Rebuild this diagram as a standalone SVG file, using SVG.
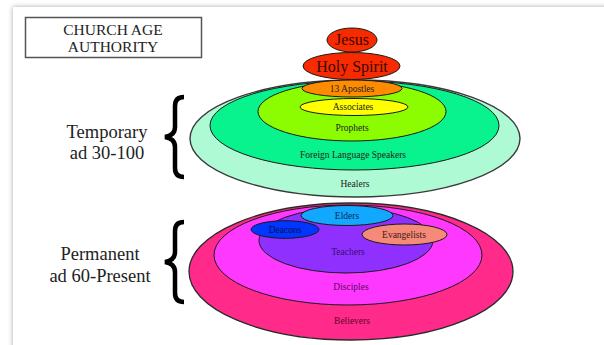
<svg xmlns="http://www.w3.org/2000/svg" width="604" height="345" viewBox="0 0 604 345">
<defs>
<filter id="sh" x="-5%" y="-5%" width="110%" height="110%">
<feDropShadow dx="0" dy="0" stdDeviation="2.5" flood-color="#000" flood-opacity="0.35"/>
</filter>
<path id="brace" d="M 184 97 C 178 97, 175 100, 175 106 L 175 127 C 175 133, 171 136, 165 137 C 171 138, 175 141, 175 147 L 175 168 C 175 174, 178 177, 184 177"/>
</defs>
<style>
.sh{stroke:#1a1a1a;stroke-width:1}
.t{font-family:"Liberation Serif","Times New Roman",serif;text-anchor:middle}
.s{font-size:9.5px}
.big{font-size:18.5px;fill:#222}
.br{fill:none;stroke:#000;stroke-width:4.5}
</style>
<rect x="0" y="0" width="604" height="345" fill="#fff"/>
<rect x="13" y="7" width="600" height="350" fill="#fff" filter="url(#sh)"/>

<g id="title">
<rect x="25.5" y="17.5" width="176" height="40" fill="#fff" stroke="#555" stroke-width="1.5"/>
<text class="t" x="113" y="35" font-size="15.5" fill="#222">CHURCH AGE</text>
<text class="t" x="113" y="52" font-size="15.5" fill="#222">AUTHORITY</text>
</g>

<g id="temporary-label">
<text class="t big" x="107" y="138">Temporary</text>
<text class="t big" x="107" y="159">ad 30-100</text>
</g>
<g id="permanent-label">
<text class="t big" x="100" y="260">Permanent</text>
<text class="t big" x="100" y="282">ad 60-Present</text>
</g>

<g id="braces">
<use href="#brace" class="br"/>
<use href="#brace" class="br" transform="translate(0,125)"/>
</g>

<g id="healers">
<ellipse cx="355" cy="138.5" rx="165" ry="58.5" fill="#aefad4" stroke="#3a3a3a" stroke-width="1.4"/>
<text class="t s" x="355" y="187" fill="#222">Healers</text>
</g>
<g id="foreign-language-speakers">
<ellipse cx="354.5" cy="125.5" rx="144.5" ry="44.5" fill="#08f28e" class="sh"/>
<text class="t s" x="353" y="158" fill="#222">Foreign Language Speakers</text>
</g>
<g id="prophets">
<ellipse cx="352" cy="111.5" rx="94" ry="29.5" fill="#8cfc00" class="sh"/>
<text class="t s" x="352" y="131" fill="#222">Prophets</text>
</g>
<g id="associates">
<ellipse cx="354" cy="107" rx="54" ry="8.5" fill="#ffff00" class="sh"/>
<text class="t s" x="353" y="110" fill="#222">Associates</text>
</g>
<g id="apostles">
<ellipse cx="352" cy="88.5" rx="50" ry="8.5" fill="#ff8c00" class="sh"/>
<text class="t s" x="352" y="91.5" fill="#222">13 Apostles</text>
</g>
<g id="holy-spirit">
<ellipse cx="351.5" cy="66" rx="48.5" ry="13.5" fill="#f82a00" class="sh"/>
<text class="t" x="352" y="71.5" font-size="16" fill="#3a0800">Holy Spirit</text>
</g>
<g id="jesus">
<ellipse cx="352" cy="40" rx="25" ry="12" fill="#f82a00" class="sh"/>
<text class="t" x="352" y="45" font-size="16" fill="#3a0800">Jesus</text>
</g>

<g id="believers">
<ellipse cx="351" cy="271.5" rx="162" ry="68.5" fill="#ff2a8a" stroke="#2a2a2a" stroke-width="1.3"/>
<text class="t s" x="352" y="324" fill="#5a0828">Believers</text>
</g>
<g id="disciples">
<ellipse cx="348" cy="255" rx="134" ry="50" fill="#ff38ff" class="sh"/>
<text class="t s" x="351" y="290" fill="#5a0860">Disciples</text>
</g>
<g id="teachers">
<ellipse cx="346" cy="240.5" rx="87" ry="32.5" fill="#9030ff" class="sh"/>
<text class="t s" x="348" y="255" fill="#3a0a70">Teachers</text>
</g>
<g id="elders">
<ellipse cx="347" cy="215.5" rx="46" ry="10" fill="#12a8ff" class="sh"/>
<text class="t s" x="347" y="218.5" fill="#0a2a55">Elders</text>
</g>
<g id="deacons">
<ellipse cx="285" cy="229.5" rx="34" ry="8.8" fill="#0036ff" class="sh"/>
<text class="t s" x="285" y="232.5" fill="#00124a">Deacons</text>
</g>
<g id="evangelists">
<ellipse cx="404.5" cy="234.5" rx="42.5" ry="10.5" fill="#f58a78" class="sh"/>
<text class="t s" x="404" y="237.5" fill="#3a1a14">Evangelists</text>
</g>
</svg>
